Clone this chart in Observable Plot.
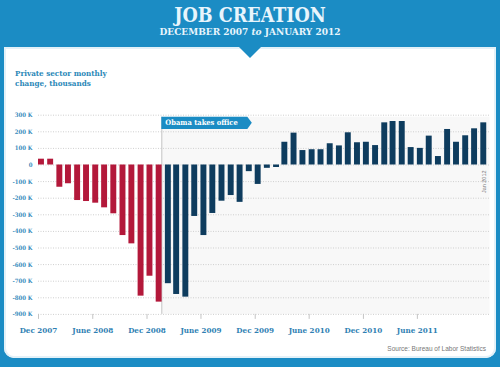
<!DOCTYPE html>
<html><head><meta charset="utf-8">
<script src="https://cdn.jsdelivr.net/npm/d3@7"></script>
<script src="https://cdn.jsdelivr.net/npm/@observablehq/plot@0.6"></script>
<style>
html,body{margin:0;padding:0;background:#fff;}
#wrap{position:relative;width:500px;height:367px;background:#1b8cc4;overflow:hidden;font-family:"DejaVu Serif Condensed","DejaVu Serif",serif;}
#panel{position:absolute;left:4px;top:47px;width:492px;height:311px;background:#fff;border-radius:0 0 10px 10px;box-shadow:inset 0 0 0 2px #e3f1f8;}
#notch{position:absolute;left:238px;top:46px;width:0;height:0;border-left:12px solid transparent;border-right:12px solid transparent;border-top:12px solid #1b8cc4;}
#title{position:absolute;left:0;width:500px;top:5.5px;text-align:center;color:#e8f5fc;font-weight:bold;font-size:19.5px;line-height:19px;white-space:nowrap;}
#sub{position:absolute;left:0;width:500px;top:26.6px;text-align:center;color:#e8f5fc;font-weight:bold;font-size:10px;line-height:10px;white-space:nowrap;}
#ylab{position:absolute;left:15px;top:67.8px;color:#2b88b8;font-weight:bold;font-size:8px;line-height:10px;white-space:nowrap;}
#src{position:absolute;right:14px;top:345px;font-family:"Liberation Sans",Arial,sans-serif;font-size:6.5px;line-height:7px;color:#777;white-space:nowrap;}
#chart{position:absolute;left:0;top:0;}
</style></head>
<body>
<div id="wrap">
  <div id="panel"></div>
  <div id="notch"></div>
  <div id="title">JOB CREATION</div>
  <div id="sub">DECEMBER 2007 <i>to</i> JANUARY 2012</div>
  <div id="ylab">Private sector monthly<br>change, thousands</div>
  <div id="chart"></div>
  <div id="src">Source: Bureau of Labor Statistics</div>
</div>
<script>
// ---- data ----
const months = ["2007-12",
  "2008-01","2008-02","2008-03","2008-04","2008-05","2008-06","2008-07","2008-08","2008-09","2008-10","2008-11","2008-12",
  "2009-01","2009-02","2009-03","2009-04","2009-05","2009-06","2009-07","2009-08","2009-09","2009-10","2009-11","2009-12",
  "2010-01","2010-02","2010-03","2010-04","2010-05","2010-06","2010-07","2010-08","2010-09","2010-10","2010-11","2010-12",
  "2011-01","2011-02","2011-03","2011-04","2011-05","2011-06","2011-07","2011-08","2011-09","2011-10","2011-11","2011-12",
  "2012-01"];
const changes = [35,
  35,-134,-113,-214,-220,-230,-258,-294,-425,-475,-790,-670,
  -826,-715,-780,-796,-310,-425,-292,-218,-184,-225,-40,-117,
  -20,-15,137,192,87,92,92,128,115,194,134,137,
  117,254,262,262,105,100,174,51,214,137,176,218,
  254];
const xTickDates = ["2007-12","2008-06","2008-12","2009-06","2009-12","2010-06","2010-12","2011-06"];
const xTickLabels = ["Dec 2007","June 2008","Dec 2008","June 2009","Dec 2009","June 2010","Dec 2010","June 2011"];
const yTicks = [300,200,100,0,-100,-200,-300,-400,-500,-600,-700,-800,-900];
const obamaDate = "2009-01-20";
const obamaLabel = "Obama takes office";
const lastLabel = "Jan 2012";
const domainEnd = "2012-02";

// ---- build ----
const RED = "#b3183a", BLUE = "#0e3c5e", TEAL = "#1b8cc4";
const SERIF = '"DejaVu Serif Condensed","DejaVu Serif",serif';
const parse = s => new Date(s.length === 7 ? s + "-01T00:00:00Z" : s + "T00:00:00Z");
const obama = parse(obamaDate);
const data = months.map((m, i) => {
  const start = parse(m);
  return {start, end: new Date(+start + 20 * 864e5), value: changes[i]};
});
const labelMap = new Map(xTickDates.map((d, i) => [+parse(d), xTickLabels[i]]));
const flagTop = 288, flagBottom = 214;

const plot = Plot.plot({
  width: 500, height: 367,
  marginLeft: 38, marginRight: 10.5, marginTop: 114.7, marginBottom: 53.1,
  style: {background: "transparent", fontFamily: SERIF, overflow: "visible"},
  x: {type: "utc", domain: [parse(months[0]), parse(domainEnd)]},
  y: {domain: [-900, 300]},
  marks: [
    Plot.rect([{x1: obama, x2: parse(domainEnd)}], {x1: "x1", x2: "x2", y1: -900, y2: flagTop, fill: "#f8f8f8"}),
    Plot.ruleY(yTicks, {stroke: "#cfcfcf", strokeDasharray: "1,1.5"}),
    Plot.ruleX([obama], {y1: -900, y2: flagTop, stroke: "#c4c4c4"}),
    Plot.rectY(data, {x1: "start", x2: "end", y: "value", fill: d => d.start < obama ? RED : BLUE}),
    Plot.axisY(yTicks, {tickSize: 0, tickPadding: 6, tickFormat: d => d === 0 ? "0" : `${d} K`,
      fontSize: 6, fill: "#3a8dbd", fontWeight: "bold", label: null}),
    Plot.ruleX(xTickDates.map(parse), {y1: -900, y2: -930, stroke: "#c4c4c4"}),
    Plot.axisX(xTickDates.map(parse), {tickSize: 0, tickPadding: 13, tickFormat: d => labelMap.get(+d),
      fontSize: 8, fill: "#2f7fb3", fontWeight: "bold", label: null}),
    Plot.text([lastLabel], {x: () => parse(months[months.length - 1]), y: -33, text: d => d, rotate: -90,
      textAnchor: "end", dx: 3, fontSize: 5.5, fill: "#777", fontFamily: '"Liberation Sans",Arial,sans-serif'})
  ]
});
document.getElementById("chart").appendChild(plot);

// flag annotation positioned through the plot's scales
const sx = plot.scale("x"), sy = plot.scale("y");
const X = d3.scaleUtc().domain(sx.domain).range(sx.range);
const Y = d3.scaleLinear().domain(sy.domain).range(sy.range);
const x0 = X(obama), yT = Y(flagTop), yB = Y(flagBottom), yM = (yT + yB) / 2;
const w = 86;
const ns = "http://www.w3.org/2000/svg";
const g = document.createElementNS(ns, "g");
const path = document.createElementNS(ns, "path");
path.setAttribute("d", `M${x0},${yT}H${x0 + w}L${x0 + w + 4.5},${yM}L${x0 + w},${yB}H${x0}Z`);
path.setAttribute("fill", TEAL);
g.appendChild(path);
const t = document.createElementNS(ns, "text");
t.setAttribute("x", x0 + 4);
t.setAttribute("y", yM);
t.setAttribute("dy", "0.35em");
t.setAttribute("text-anchor", "start");
t.setAttribute("fill", "#fff");
t.setAttribute("font-size", "7.5");
t.setAttribute("font-weight", "bold");
t.setAttribute("font-family", SERIF);
t.textContent = obamaLabel;
g.appendChild(t);
plot.appendChild(g);
</script>
</body></html>
